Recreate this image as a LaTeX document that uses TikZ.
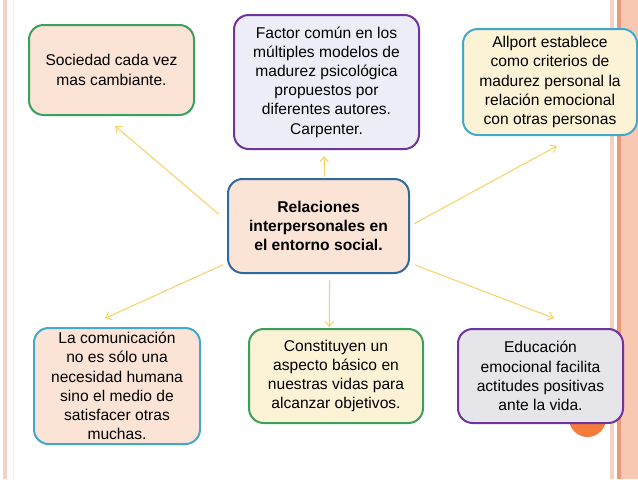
\documentclass[tikz,border=0pt]{standalone}
\usepackage{fontspec}
\setmainfont{Liberation Sans}
\usepackage{xcolor}
\usepackage{tikz}
\usetikzlibrary{arrows.meta, calc}
\definecolor{melocoton}{RGB}{251,228,214}
\definecolor{lavanda}{RGB}{237,237,247}
\definecolor{crema}{RGB}{252,242,213}
\definecolor{gris}{RGB}{229,229,234}
\definecolor{verde}{RGB}{58,160,92}
\definecolor{morado}{RGB}{112,52,160}
\definecolor{celeste}{RGB}{68,168,205}
\definecolor{azul}{RGB}{46,106,160}
\definecolor{amarillo}{RGB}{245,212,105}
\definecolor{naranja}{RGB}{244,123,58}
\definecolor{salmon}{RGB}{249,200,178}
\definecolor{salmonosc}{RGB}{236,152,122}
\definecolor{salmonclaro}{RGB}{246,208,194}

\begin{document}
\begin{tikzpicture}[
  x=0.75pt, y=-0.75pt,
  caja/.style={rectangle, draw=#1, rounded corners=11pt, line width=1.5pt, text centered, align=center, inner sep=2pt, font=\fontsize{11.7}{14.4}\selectfont},
  flecha/.style={draw=amarillo, line width=0.8pt, -{Straight Barb[length=4pt, width=6.5pt]}},
]

% fondo y bandas laterales
\useasboundingbox[fill=white] (0,0) rectangle (638,479);
\fill[salmonclaro] (3,0) rectangle (7,479);
\fill[salmonclaro!50] (12.5,0) rectangle (13.5,479);
\fill[salmonclaro] (610,0) rectangle (614,479);
\fill[salmonosc] (617,0) rectangle (621,479);
\fill[salmon] (621,0) rectangle (638,479);
\fill[naranja] (587.5,418.5) circle (18.5);

\node[caja=azul, fill=melocoton, minimum width=135.75pt, minimum height=70.5pt, font=\fontsize{11.7}{14.4}\selectfont\bfseries] (centro) at (318.5,226) {Relaciones\\interpersonales en\\el entorno social.};
\node[caja=verde, fill=melocoton, minimum width=123.75pt, minimum height=67.5pt] (sociedad) at (111.5,70) {Sociedad cada vez\\mas cambiante.};
\node[caja=morado, fill=lavanda, minimum width=138.75pt, minimum height=100.5pt] (factor) at (326.5,82) {Factor común en los\\múltiples modelos de\\madurez psicológica\\propuestos por\\diferentes autores.\\Carpenter.};
\node[caja=celeste, fill=crema, minimum width=130.5pt, minimum height=79.5pt] (allport) at (550,82) {Allport establece\\como criterios de\\madurez personal la\\relación emocional\\con otras personas};
\node[caja=celeste, fill=melocoton, minimum width=124.5pt, minimum height=87pt] (comunicacion) at (117,386) {La comunicación\\no es sólo una\\necesidad humana\\sino el medio de\\satisfacer otras\\muchas.};
\node[caja=verde, fill=crema, minimum width=130.5pt, minimum height=70.5pt] (aspecto) at (336,376) {Constituyen un\\aspecto básico en\\nuestras vidas para\\alcanzar objetivos.};
\node[caja=morado, fill=gris, minimum width=123.75pt, minimum height=70.5pt] (educacion) at (540.5,376) {Educación\\emocional facilita\\actitudes positivas\\ante la vida.};

\draw[flecha, shorten <=8pt, shorten >=11.5pt] (centro.177) -- (sociedad.-100);
\draw[flecha, shorten <=1pt, shorten >=4.5pt] (centro.83) -- (factor.-92);
\draw[flecha, shorten <=3.5pt, shorten >=15.5pt] (centro.east) -- (allport.-65);
\draw[flecha, shorten <=3pt, shorten >=16pt] (centro.202) -- (comunicacion.118);
\draw[flecha, shorten <=4.5pt, shorten >=0.5pt] (centro.-77) -- (aspecto.98);
\draw[flecha, shorten <=4pt, shorten >=20.4pt] (centro.-22) -- (educacion.51);

\end{tikzpicture}
\end{document}
